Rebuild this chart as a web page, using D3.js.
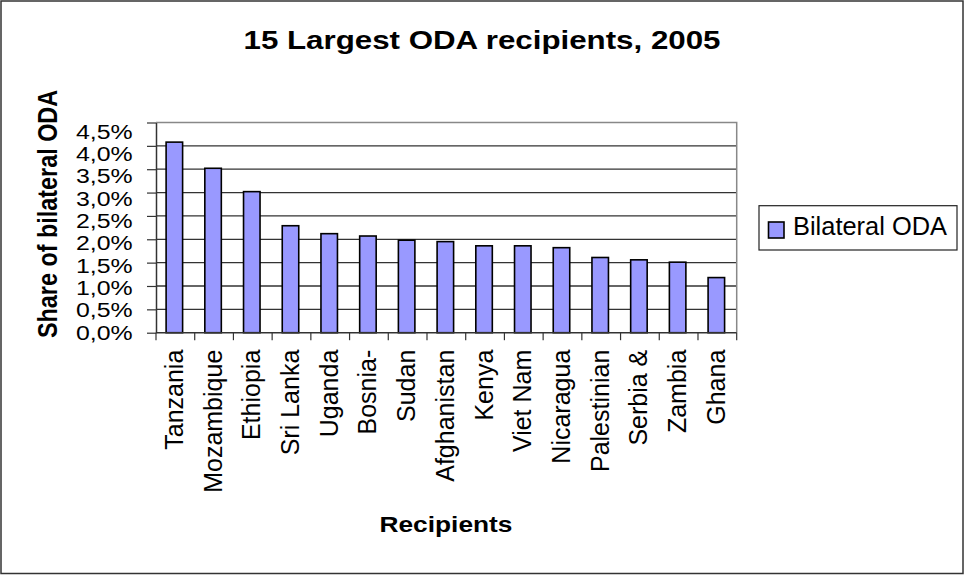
<!DOCTYPE html>
<html>
<head>
<meta charset="utf-8">
<script src="https://cdn.jsdelivr.net/npm/d3@7"></script>
<style>
  html, body { margin: 0; padding: 0; background: #fff; }
  svg { display: block; }
  text { font-family: "Liberation Sans", Arial, sans-serif; fill: #000; }
</style>
</head>
<body>
<svg id="chart" width="965" height="575"></svg>
<script>
// ---- data ----
const categories = ["Tanzania","Mozambique","Ethiopia","Sri Lanka","Uganda","Bosnia-","Sudan","Afghanistan","Kenya","Viet Nam","Nicaragua","Palestinian","Serbia &","Zambia","Ghana"];
const values = [4.08, 3.52, 3.02, 2.29, 2.12, 2.07, 1.98, 1.95, 1.86, 1.86, 1.82, 1.61, 1.56, 1.51, 1.18];
const yTicks = [0, 0.5, 1.0, 1.5, 2.0, 2.5, 3.0, 3.5, 4.0, 4.5];
const seriesName = "Bilateral ODA";
const titleText = "15 Largest ODA recipients, 2005";
const xTitle = "Recipients";
const yTitle = "Share of bilateral ODA";

const svg = d3.select("#chart");
const plot = { left: 156, right: 736.7, top: 122.5, bottom: 332.7 };

// outer frame
svg.append("rect").attr("x", 1).attr("y", 1).attr("width", 962).attr("height", 572.5)
  .attr("fill", "#fff").attr("stroke", "#333").attr("stroke-width", 1.5);

const x = d3.scaleBand().domain(categories).range([plot.left, plot.right]).padding(0);
const y = d3.scaleLinear().domain([0, 4.5]).range([plot.bottom, plot.top]);
// labels in the reference sit slightly off their ticks
const yLab = d3.scaleLinear().domain([0, 4.5]).range([331.7, 130.5]);

const fmt = d => d.toFixed(1).replace(".", ",") + "%";

// gridlines
svg.append("g").selectAll("line").data(yTicks.filter(d => d > 0 && d < 4.5)).join("line")
  .attr("x1", plot.left).attr("x2", plot.right)
  .attr("y1", d => y(d)).attr("y2", d => y(d))
  .attr("stroke", "#333").attr("stroke-width", 1.3);

// plot area top/right border
svg.append("path")
  .attr("d", `M${plot.left},${y(4.5)}H${plot.right}V${plot.bottom}`)
  .attr("fill", "none").attr("stroke", "#888").attr("stroke-width", 1.5);

// bars
const barW = 16.5;
svg.append("g").selectAll("rect").data(values).join("rect")
  .attr("x", (d, i) => x(categories[i]) + (x.bandwidth() - barW) / 2 - 1)
  .attr("y", d => y(d))
  .attr("width", barW)
  .attr("height", d => y(0) - y(d))
  .attr("fill", "#9999ff").attr("stroke", "#000").attr("stroke-width", 1.6);

// y axis
const yAxis = svg.append("g").attr("transform", `translate(${plot.left},0)`)
  .call(d3.axisLeft(y).tickValues(yTicks).tickSize(9).tickSizeOuter(0).tickFormat(fmt));
yAxis.select(".domain").attr("stroke", "#333").attr("stroke-width", 1.5);
yAxis.selectAll(".tick line").attr("stroke", "#333").attr("stroke-width", 1.2);
yAxis.selectAll(".tick text")
  .attr("font-size", 20.5).attr("font-family", "Liberation Sans, Arial, sans-serif")
  .attr("fill", "#000")
  .attr("x", -23.3)
  .attr("dy", null)
  .attr("dominant-baseline", "central")
  .attr("y", d => yLab(d) - y(d))
  .attr("textLength", 56.7).attr("lengthAdjust", "spacingAndGlyphs");

// x axis line
svg.append("line").attr("x1", plot.left).attr("x2", plot.right)
  .attr("y1", plot.bottom).attr("y2", plot.bottom)
  .attr("stroke", "#333").attr("stroke-width", 1.5);
// boundary ticks
const bounds = categories.map(c => x(c)).concat([plot.right]);
svg.append("g").selectAll("line").data(bounds).join("line")
  .attr("x1", d => d).attr("x2", d => d)
  .attr("y1", plot.bottom).attr("y2", plot.bottom + 7.5)
  .attr("stroke", "#333").attr("stroke-width", 1.2);

// category labels via axis
const xAxis = svg.append("g").attr("transform", `translate(0,${plot.bottom})`)
  .call(d3.axisBottom(x).tickSize(0).tickSizeOuter(0));
xAxis.select(".domain").remove();
xAxis.selectAll(".tick text")
  .attr("font-size", 25).attr("font-family", "Liberation Sans, Arial, sans-serif")
  .attr("fill", "#000")
  .attr("text-anchor", "end")
  .attr("dominant-baseline", "central")
  .attr("dy", null)
  .attr("y", 0)
  .attr("transform", "translate(-1.5,17) rotate(-90)");

// title
svg.append("text").attr("x", 482).attr("y", 49.3)
  .attr("text-anchor", "middle").attr("font-weight", "bold").attr("font-size", 25.6)
  .attr("textLength", 477).attr("lengthAdjust", "spacingAndGlyphs")
  .text(titleText);

// x title
svg.append("text").attr("x", 446).attr("y", 532.2)
  .attr("text-anchor", "middle").attr("font-weight", "bold").attr("font-size", 21.6)
  .attr("textLength", 133).attr("lengthAdjust", "spacingAndGlyphs")
  .text(xTitle);

// y title
svg.append("text")
  .attr("transform", "translate(56.5,214) rotate(-90) scale(1,1.2)")
  .attr("text-anchor", "middle").attr("font-weight", "bold").attr("font-size", 23.4)
  .text(yTitle);

// legend
const lg = svg.append("g");
lg.append("rect").attr("x", 759).attr("y", 205.7).attr("width", 198).attr("height", 44.3)
  .attr("fill", "#fff").attr("stroke", "#222").attr("stroke-width", 1.2);
lg.append("rect").attr("x", 768.5).attr("y", 222).attr("width", 15.5).attr("height", 16)
  .attr("fill", "#9999ff").attr("stroke", "#000").attr("stroke-width", 1.6);
lg.append("text").attr("x", 793).attr("y", 235).attr("font-size", 25.5)
  .attr("textLength", 154).attr("lengthAdjust", "spacingAndGlyphs")
  .text(seriesName);
</script>
</body>
</html>
